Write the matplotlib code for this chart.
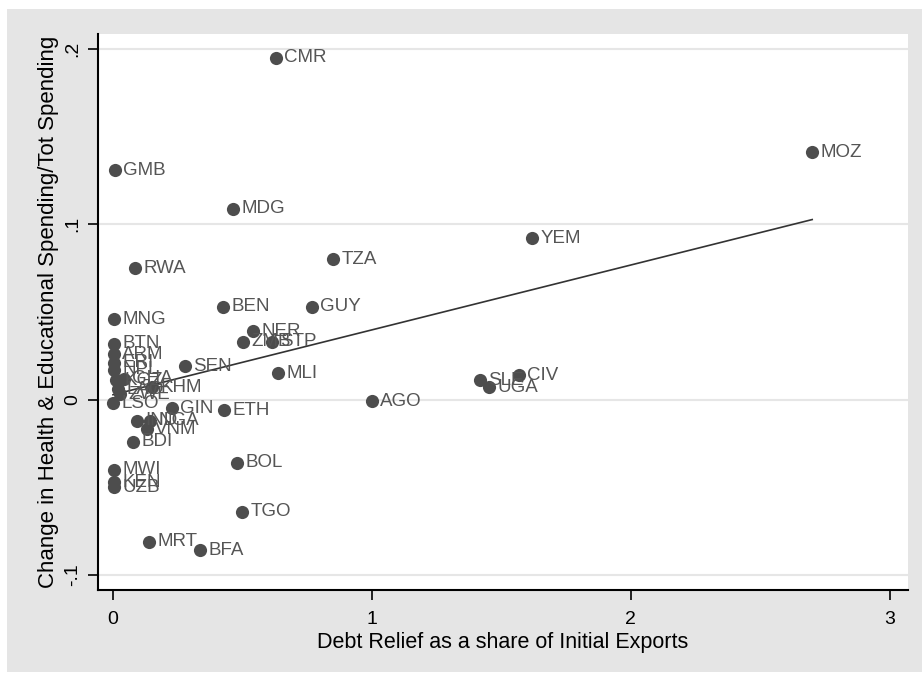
import numpy as np
import matplotlib.pyplot as plt
from matplotlib.patches import Rectangle

plt.rcParams['font.family'] = ['Liberation Sans', 'DejaVu Sans']

# country codes, debt relief / initial exports, change in spending share
codes = ['CMR', 'MOZ', 'GMB', 'MDG', 'YEM', 'TZA', 'RWA', 'BEN', 'GUY', 'MNG',
         'NER', 'ZMB', 'STP', 'BTN', 'ARM', 'ERI', 'NPL', 'SEN', 'MLI', 'KGZ',
         'GHA', 'KHM', 'LAO', 'ZWE', 'LSO', 'AGO', 'SLE', 'UGA', 'CIV', 'GIN',
         'ETH', 'IND', 'NGA', 'VNM', 'BDI', 'BOL', 'MWI', 'KEN', 'UZB', 'TGO',
         'MRT', 'BFA']
relief = [0.629, 2.70, 0.008, 0.463, 1.618, 0.849, 0.085, 0.425, 0.768, 0.004,
          0.541, 0.502, 0.614, 0.004, 0.004, 0.004, 0.004, 0.278, 0.637, 0.012,
          0.042, 0.151, 0.019, 0.027, 0.0, 1.0, 1.417, 1.452, 1.568, 0.228,
          0.429, 0.093, 0.143, 0.131, 0.077, 0.479, 0.004, 0.004, 0.004, 0.498,
          0.139, 0.336]
change = [0.195, 0.141, 0.131, 0.109, 0.092, 0.080, 0.075, 0.053, 0.053, 0.046,
          0.039, 0.033, 0.033, 0.032, 0.026, 0.021, 0.017, 0.019, 0.015, 0.011,
          0.012, 0.007, 0.006, 0.003, -0.002, -0.001, 0.011, 0.007, 0.014, -0.005,
          -0.006, -0.012, -0.012, -0.017, -0.024, -0.036, -0.040, -0.047, -0.050, -0.064,
          -0.081, -0.086]

xticks = [0, 1, 2, 3]
yticks = [-0.1, 0, 0.1, 0.2]
ytick_labels = ['-.1', '0', '.1', '.2']

W, H = 922, 675
fig = plt.figure(figsize=(W / 100, H / 100), dpi=100)
fig.patch.set_facecolor('white')
fig.patches.append(Rectangle((7 / W, 1 - 672 / H), (W - 7) / W, (672 - 9) / H,
                             transform=fig.transFigure, facecolor='#e5e5e5',
                             edgecolor='none', zorder=-10))

ax = fig.add_axes([98 / W, 1 - 590 / H, (908 - 98) / W, (590 - 34) / H])
ax.set_facecolor('white')

x = np.array(relief)
y = np.array(change)

ax.scatter(x, y, s=90, color='#4d4d4d', zorder=3, linewidths=0)
for c, xi, yi in zip(codes, x, y):
    ax.annotate(c, (xi, yi), xytext=(6, 0), textcoords='offset points',
                ha='left', va='center', fontsize=13.5, color='#555555', zorder=4)

# fitted line
b, a = np.polyfit(x, y, 1)
xs = np.array([x.min(), x.max()])
ax.plot(xs, a + b * xs, color='#333333', lw=1.2, zorder=2)

ax.set_xlim(-0.058, 3.07)
ax.set_ylim(-0.1086, 0.2086)
ax.set_xticks(xticks)
ax.set_xticklabels([str(t) for t in xticks])
ax.set_yticks(yticks)
ax.set_yticklabels(ytick_labels, rotation=90, va='center')
ax.grid(axis='y', color='#e6e6e6', lw=1.5)
ax.set_axisbelow(True)

for s in ['top', 'right']:
    ax.spines[s].set_visible(False)
for s in ['left', 'bottom']:
    ax.spines[s].set_linewidth(1.5)
ax.tick_params(direction='out', length=7, width=1.2, labelsize=14)
ax.tick_params(axis='x', pad=8)
ax.tick_params(axis='y', pad=5)

ax.set_xlabel('Debt Relief as a share of Initial Exports', fontsize=15.5, labelpad=3)
ax.set_ylabel('Change in Health & Educational Spending/Tot Spending', fontsize=16, labelpad=4)

fig.savefig('out.png', dpi=100)
